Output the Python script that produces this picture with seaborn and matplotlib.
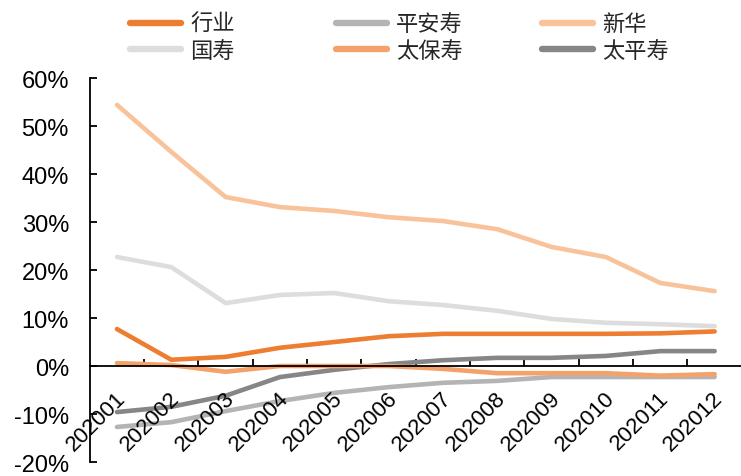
import numpy as np
import pandas as pd
import matplotlib
matplotlib.use("Agg")
import matplotlib.pyplot as plt
import matplotlib.transforms as mtransforms
import seaborn as sns
from matplotlib.ticker import FuncFormatter, FixedLocator

months = ["202001", "202002", "202003", "202004", "202005", "202006",
          "202007", "202008", "202009", "202010", "202011", "202012"]
hangye = [7.7, 1.3, 1.9, 3.8, 5.0, 6.2, 6.7, 6.7, 6.7, 6.7, 6.8, 7.2]
pingan = [-12.7, -11.7, -9.4, -7.3, -5.6, -4.4, -3.5, -3.1, -2.3, -2.3, -2.3, -2.3]
xinhua = [54.4, 44.6, 35.2, 33.1, 32.3, 31.0, 30.2, 28.5, 24.8, 22.7, 17.3, 15.6]
guoshou = [22.7, 20.6, 13.1, 14.8, 15.2, 13.5, 12.7, 11.5, 9.8, 9.0, 8.7, 8.3]
taibao = [0.6, 0.2, -1.2, 0.0, 0.0, 0.0, -0.6, -1.5, -1.5, -1.5, -2.0, -1.7]
taiping = [-9.6, -8.5, -6.2, -2.3, -0.8, 0.4, 1.2, 1.7, 1.7, 2.1, 3.1, 3.1]

series_names = ["国寿", "新华", "平安寿", "太平寿", "太保寿", "行业"]
series_vals = [guoshou, xinhua, pingan, taiping, taibao, hangye]
colors = {"行业": "#ED7D31", "平安寿": "#B4B4B4", "新华": "#F8C39A",
          "国寿": "#DDDDDD", "太保寿": "#F4A26A", "太平寿": "#868686"}

rows = []
for name, vals in zip(series_names, series_vals):
    for i, (m, v) in enumerate(zip(months, vals)):
        rows.append({"idx": i, "month": m, "series": name, "value": v})
df = pd.DataFrame(rows)

sns.set_theme(style="white")
plt.rcParams['font.family'] = ['Liberation Sans', 'Noto Sans CJK SC', 'DejaVu Sans']

W, H = 741, 477
fig = plt.figure(figsize=(W / 100, H / 100), dpi=100)
ax = fig.add_axes([89.8 / W, 1 - 463 / H, 652 / W, 384 / H])

sns.lineplot(data=df, x="idx", y="value", hue="series", hue_order=series_names,
             palette=colors, linewidth=3.3, ax=ax, legend=False)
for ln in ax.get_lines():
    ln.set_solid_capstyle("round")
    ln.set_solid_joinstyle("round")

ax.set_xlim(-0.5, 11.5)
ax.set_ylim(-20, 60)
ax.set_yticks(np.arange(-20, 61, 10))
ax.yaxis.set_major_formatter(FuncFormatter(lambda v, p: f"{int(v)}%"))
ax.tick_params(axis="y", direction="in", length=5, width=1.3, color="black",
               labelsize=17, pad=15, left=True, labelcolor="black")

ax.set_xticks([])
ax.xaxis.set_minor_locator(FixedLocator(np.arange(0.5, 11, 1)))
ax.tick_params(axis="x", which="minor", direction="in", length=5, width=1.3,
               color="black", bottom=True)

trans = mtransforms.blended_transform_factory(ax.transData, ax.transData)
offset = mtransforms.ScaledTranslation(-2 / 100, -21 / 100, fig.dpi_scale_trans)
for i, m in enumerate(months):
    ax.text(i, 0, m, transform=trans + offset, rotation=45, ha="right", va="top",
            rotation_mode="anchor", fontsize=16, color="black")

ax.spines["top"].set_visible(False)
ax.spines["right"].set_visible(False)
ax.spines["left"].set_color("black")
ax.spines["left"].set_linewidth(1.3)
ax.spines["bottom"].set_position(("data", 0))
ax.spines["bottom"].set_color("black")
ax.spines["bottom"].set_linewidth(1.3)
ax.set_xlabel("")
ax.set_ylabel("")
ax.grid(False)

legend_cols = [["行业", "国寿"], ["平安寿", "太保寿"], ["新华", "太平寿"]]
legend_x = [130, 336, 542]
for names, lx in zip(legend_cols, legend_x):
    handles = [plt.Line2D([0], [0], color=colors[n], linewidth=4.6, solid_capstyle="round")
               for n in names]
    leg = fig.legend(handles, names, loc="center left",
                     bbox_to_anchor=(lx / W, 1 - 38 / H), frameon=False,
                     handlelength=2.3, handletextpad=0.4, labelspacing=0.15,
                     borderpad=0, borderaxespad=0,
                     prop={"family": ["Noto Sans CJK SC"], "size": 16})

fig.savefig("out.png", dpi=100)
